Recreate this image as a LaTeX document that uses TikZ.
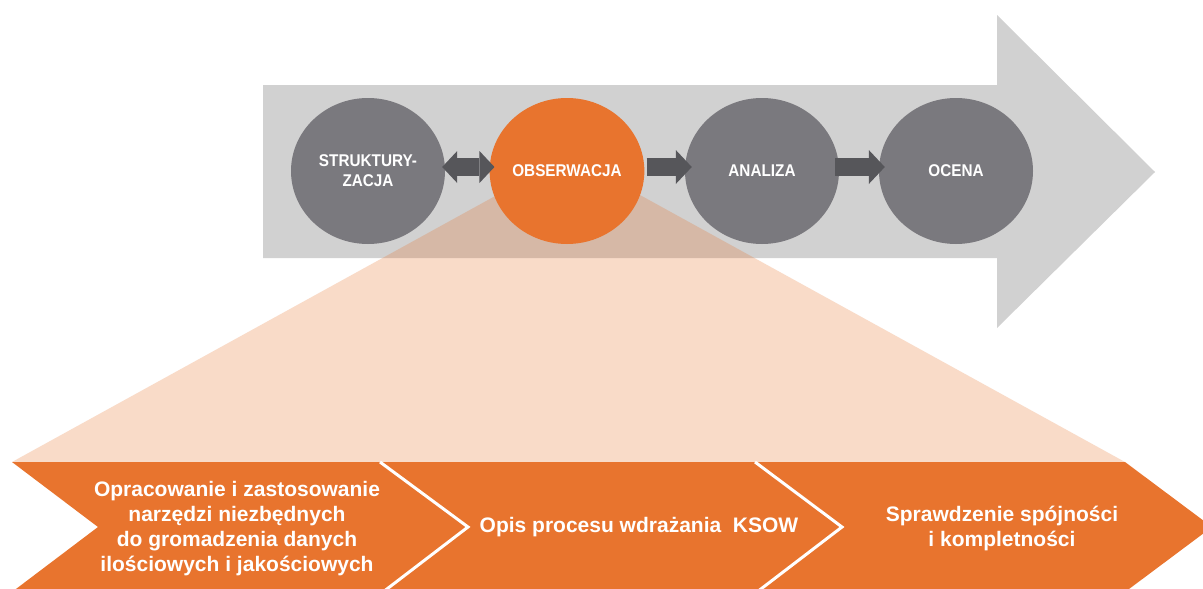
\documentclass[tikz,border=0pt]{standalone}
\usepackage{fontspec}
\setmainfont{Liberation Sans}
\newfontfamily\phasefont{Liberation Sans}[FakeStretch=0.9]
\usetikzlibrary{arrows.meta,shapes.geometric,calc}

\definecolor{orng}{HTML}{E8742E}
\definecolor{stepgrey}{HTML}{7A797E}
\definecolor{bandgrey}{HTML}{D1D1D1}
\definecolor{linkgrey}{HTML}{56565A}

\begin{document}
\begin{tikzpicture}[x=1pt,y=-1pt,
  phase/.style={ellipse, minimum width=154pt, minimum height=146pt, inner sep=0pt,
    text=white, font=\phasefont\fontsize{17}{20}\selectfont\bfseries, align=center},
  onelink/.style={draw=linkgrey, line width=18pt,
    -{Triangle[length=16pt 0 0, width=34pt 0 0, line width=0pt]}},
  twolink/.style={draw=linkgrey, line width=18pt,
    {Triangle[length=15pt 0 0, width=32pt 0 0, line width=0pt]}-{Triangle[length=15pt 0 0, width=32pt 0 0, line width=0pt]}},
  steptext/.style={inner sep=0pt, text=white, align=center,
    font=\fontsize{21}{25}\selectfont\bfseries}
]
\useasboundingbox (0,0) rectangle (1203,589);
\fill[white] (0,0) rectangle (1203,589);

% large process arrow in the background
\fill[bandgrey] (263,85) -- (997,85) -- (997,15) -- (1155,172) -- (997,328)
  -- (997,258) -- (263,258) -- cycle;

% translucent funnel from the observation phase down to its steps
\fill[orng, opacity=0.26] (497,195) -- (640,195) -- (1125,462) -- (12,462) -- cycle;

% phases
\node[phase, fill=stepgrey] (s) at (368,171) {STRUKTURY-\\ZACJA};
\node[phase, fill=orng]     (o) at (567,171) {OBSERWACJA};
\node[phase, fill=stepgrey] (a) at (762,171) {ANALIZA};
\node[phase, fill=stepgrey] (c) at (956,171) {OCENA};

% links between phases
\draw[twolink, shorten <=-3pt, shorten >=-5pt] ($(s.east)+(0,-4)$) -- ($(o.west)+(0,-4)$);
\draw[onelink, shorten <=2pt, shorten >=-7pt] ($(o.east)+(0,-4)$) -- ($(a.west)+(0,-4)$);
\draw[onelink, shorten <=-4pt, shorten >=-6pt] ($(a.east)+(0,-4)$) -- ($(c.west)+(0,-4)$);

% chevron band of observation steps
\begin{scope}
  \clip (0,0) rectangle (1203,589);
  \fill[orng] (12,462) -- (1125,462) -- (1212,527) -- (1125,592) -- (12,592)
    -- (98,527) -- cycle;
  \draw[white, line width=3pt, line join=miter] (380,462) -- (468,527) -- (383,592);
  \draw[white, line width=3pt, line join=miter] (755,462) -- (842,527) -- (757,592);
\end{scope}

\node[steptext] (t1) at (237,529) {Opracowanie i zastosowanie\\narzędzi niezbędnych\\do gromadzenia danych\\ilościowych i jakościowych};
\node[steptext] (t2) at (639,527) {Opis procesu wdrażania\ \ KSOW};
\node[steptext] (t3) at (1002,528) {Sprawdzenie spójności\\i kompletności};
\end{tikzpicture}
\end{document}
